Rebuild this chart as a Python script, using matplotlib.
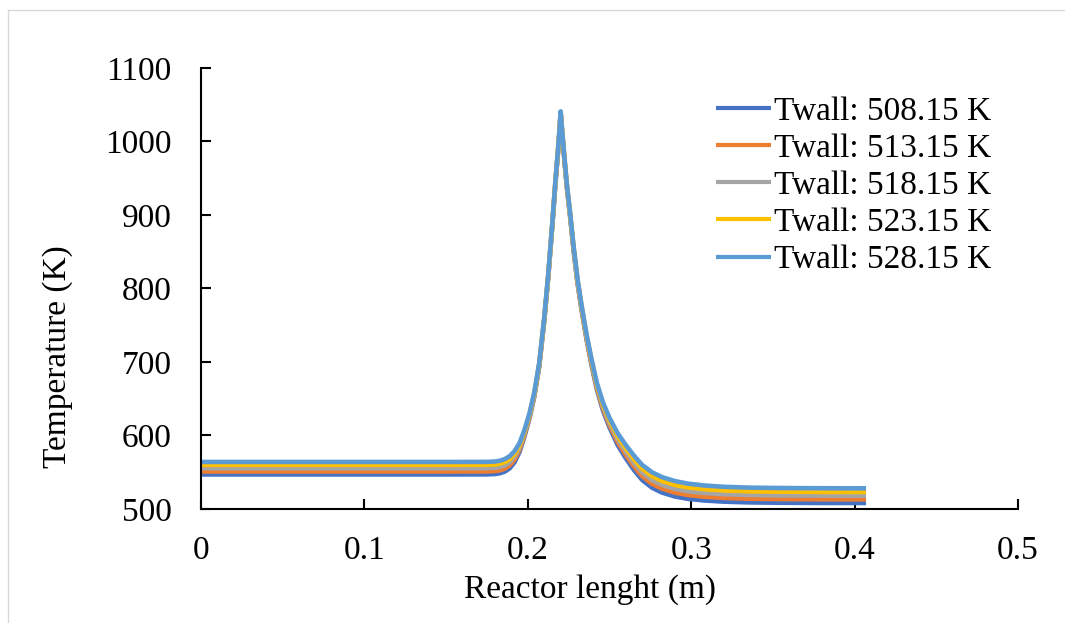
import matplotlib
matplotlib.use("Agg")
import matplotlib.pyplot as plt
from matplotlib.patches import Rectangle
from matplotlib.ticker import FuncFormatter

# Axial position along the reactor (m)
length_m = [0.000, 0.080, 0.150, 0.175, 0.180, 0.183, 0.186, 0.189, 0.192, 0.195,
            0.198, 0.201, 0.204, 0.207, 0.210, 0.2125, 0.215, 0.217, 0.2185, 0.2195,
            0.2201, 0.2212, 0.2225, 0.2240, 0.2258, 0.2280, 0.2305, 0.2330, 0.2360, 0.2390,
            0.2422, 0.2460, 0.2500, 0.2550, 0.2600, 0.2650, 0.2700, 0.2760, 0.2820, 0.2900,
            0.2980, 0.3080, 0.3200, 0.3350, 0.3550, 0.3800, 0.4070]

# Temperature profiles (K) for each wall temperature
t_508 = [547, 547, 547, 547.1, 547.6, 548.7, 551, 555.5, 564, 578,
         599, 623, 653, 694, 754.5, 815, 885.5, 946, 986, 1016,
         1038, 1006.5, 972, 935.5, 900, 852.5, 806, 769.5, 730, 696,
         663, 634, 611, 587, 569, 553, 539.5, 529, 522.5, 517,
         513.8, 511.6, 510, 509, 508.5, 508.2, 508.15]
t_513 = [551, 551, 551, 551.1, 551.6, 552.7, 555, 559.6, 567.8, 581,
         601.3, 624.8, 654.5, 695.3, 755.6, 816, 886.4, 946.8, 986.8, 1016.8,
         1038.8, 1007.4, 973, 936.6, 901.3, 853.9, 807.5, 771.1, 731.8, 698,
         665.3, 636.8, 614.3, 591, 573.5, 557.9, 544.6, 534.3, 527.8, 522.3,
         519, 516.7, 515.1, 514, 513.5, 513.2, 513.15]
t_518 = [555.5, 555.5, 555.5, 555.6, 556.1, 557.2, 559.5, 563.8, 571.5, 584,
         603.5, 626.5, 656, 696.5, 756.8, 817, 887.3, 947.5, 987.5, 1017.5,
         1039.5, 1008.3, 974, 937.8, 902.5, 855.3, 809, 772.8, 733.5, 700,
         667.5, 639.5, 617.5, 595, 578, 562.8, 549.8, 539.5, 533, 527.5,
         524.2, 521.8, 520.1, 519.1, 518.5, 518.2, 518.15]
t_523 = [560, 560, 560, 560.1, 560.6, 561.7, 564, 567.9, 575.3, 587,
         605.8, 628.3, 657.5, 697.8, 757.9, 818, 888.1, 948.3, 988.3, 1018.3,
         1040.3, 1009.1, 975, 938.9, 903.8, 856.6, 810.5, 774.4, 735.3, 702,
         669.8, 642.3, 620.8, 599, 582.5, 567.6, 554.9, 544.8, 538.3, 532.8,
         529.3, 526.9, 525.2, 524.1, 523.5, 523.2, 523.15]
t_528 = [564, 564, 564, 564.1, 564.6, 565.7, 568, 572, 579, 590,
         608, 630, 659, 699, 759, 819, 889, 949, 989, 1019,
         1041, 1010, 976, 940, 905, 858, 812, 776, 737, 704,
         672, 645, 624, 603, 587, 572.5, 560, 550, 543.5, 538,
         534.5, 532, 530.2, 529.1, 528.55, 528.25, 528.15]

series_labels = ["Twall: 508.15 K", "Twall: 513.15 K", "Twall: 518.15 K",
                 "Twall: 523.15 K", "Twall: 528.15 K"]
series_colors = ["#4472C4", "#ED7D31", "#A5A5A5", "#FFC000", "#5B9BD5"]
profiles = [t_508, t_513, t_518, t_523, t_528]

x_ticks = [0, 0.1, 0.2, 0.3, 0.4, 0.5]
y_ticks = [500, 600, 700, 800, 900, 1000, 1100]

FONT = "Liberation Serif"
FS = 24
W, H = 1065, 623

fig = plt.figure(figsize=(W / 100, H / 100), dpi=100)
fig.patch.set_facecolor("white")

# light chart-area border
fig.patches.append(Rectangle((8 / W, -0.05), 1.1, 1.05 - 10 / H,
                             transform=fig.transFigure, fill=False,
                             edgecolor="#D9D9D9", linewidth=1.0))

ax = fig.add_axes([201 / W, 1 - 509 / H, (1018 - 201) / W, (509 - 68) / H])

for vals, lab, col in zip(profiles, series_labels, series_colors):
    ax.plot(length_m, vals, color=col, linewidth=3.3, label=lab,
            solid_capstyle="butt", solid_joinstyle="round")

ax.set_xlim(0, 0.5)
ax.set_ylim(500, 1100)
ax.set_xticks(x_ticks)
ax.set_yticks(y_ticks)
ax.xaxis.set_major_formatter(FuncFormatter(lambda v, p: f"{v:g}"))
ax.yaxis.set_major_formatter(FuncFormatter(lambda v, p: f"{v:g}"))

for s in ("top", "right"):
    ax.spines[s].set_visible(False)
for s in ("left", "bottom"):
    ax.spines[s].set_linewidth(1.5)
    ax.spines[s].set_color("black")

ax.tick_params(axis="both", direction="in", length=7, width=1.5, color="black",
               labelsize=FS)
ax.tick_params(axis="y", pad=21)
ax.tick_params(axis="x", pad=19)
for lbl in ax.get_xticklabels() + ax.get_yticklabels():
    lbl.set_fontfamily(FONT)

fig.text(590 / W, 1 - 590 / H, "Reactor lenght (m)", ha="center", va="center",
         fontsize=FS, family=FONT)
fig.text(58 / W, 1 - 357 / H, "Temperature (K)", ha="center", va="center",
         rotation=90, fontsize=FS, family=FONT)

leg = ax.legend(loc="upper left", bbox_to_anchor=(716 / W, 1 - 96 / H),
                bbox_transform=fig.transFigure, frameon=False,
                prop={"family": FONT, "size": FS}, handlelength=1.65,
                handletextpad=0.1, labelspacing=0.2, borderpad=0,
                borderaxespad=0)
for ln in leg.get_lines():
    ln.set_linewidth(3.0)

fig.savefig("out.png", dpi=100, facecolor="white")
